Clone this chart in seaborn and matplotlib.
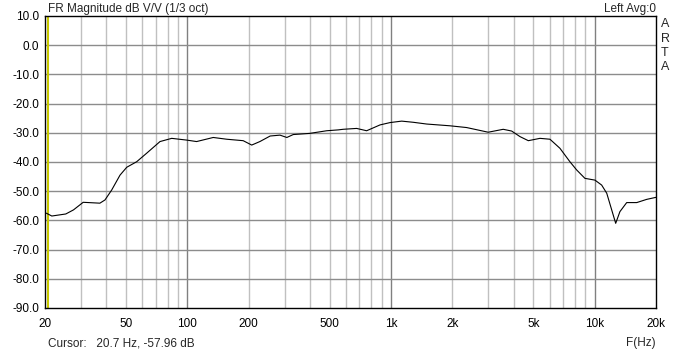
import matplotlib
matplotlib.use('Agg')
import matplotlib.pyplot as plt
import matplotlib.ticker as mticker
import seaborn as sns
import pandas as pd

# frequency response (1/3 oct smoothed)
freq_hz = [20, 20.4, 21.6, 25.3, 27.6, 30.8, 37.2, 39.4, 42.5, 46.7, 50.4,
           56.4, 63.1, 73.4, 83.8, 99.3, 111, 134, 156, 188, 207, 227, 255,
           285, 308, 331, 399, 483, 551, 582, 678, 759, 883, 989, 1128, 1286,
           1497, 1946, 2350, 3000, 3556, 3911, 4296, 4722, 5386, 6030, 6750,
           7555, 8150, 8955, 10025, 10820, 11460, 12120, 12680, 13300, 14360,
           16080, 18000, 20000]
mag_db = [-57.4, -57.6, -58.5, -57.8, -56.4, -53.8, -54.1, -53.0, -49.6,
          -44.5, -41.8, -39.9, -37.0, -33.0, -31.9, -32.5, -33.0, -31.6,
          -32.2, -32.7, -34.2, -33.0, -31.1, -30.8, -31.6, -30.6, -30.2,
          -29.3, -29.0, -28.8, -28.5, -29.3, -27.3, -26.5, -26.0, -26.4,
          -27.0, -27.6, -28.2, -29.8, -28.8, -29.4, -31.3, -32.7, -31.9,
          -32.2, -35.3, -39.9, -42.7, -45.6, -46.2, -47.9, -50.7, -56.4,
          -61.0, -57.0, -53.9, -53.9, -52.8, -52.1]

x_ticks = [20, 50, 100, 200, 500, 1000, 2000, 5000, 10000, 20000]
x_labels = ['20', '50', '100', '200', '500', '1k', '2k', '5k', '10k', '20k']
y_ticks = list(range(-90, 11, 10))
cursor_hz = 20.7

df = pd.DataFrame({'f': freq_hz, 'db': mag_db})

sns.set_style('white')
plt.rcParams['font.family'] = ['Liberation Sans', 'DejaVu Sans']

fig = plt.figure(figsize=(6.8, 3.51), dpi=100)
ax = fig.add_axes([45 / 680, 43 / 351, 611 / 680, 292 / 351])

ax.set_xscale('log')
ax.set_xlim(20, 20000)
ax.set_ylim(-90, 10)

# grid: light minor verticals, darker decades, grey horizontals
minor = [m * d for d in (10, 100, 1000) for m in range(2, 10)]
for v in minor:
    if 20 < v < 20000:
        ax.axvline(v, color='#c0c0c0', lw=1, zorder=0)
for v in (100, 1000, 10000):
    ax.axvline(v, color='#808080', lw=1, zorder=0)
for h in y_ticks[1:-1]:
    ax.axhline(h, color='#8c8c8c', lw=1, zorder=0)

ax.axvline(cursor_hz, color='#c8c800', lw=1.5, zorder=1)

sns.lineplot(data=df, x='f', y='db', ax=ax, color='black', lw=0.8,
             zorder=3, legend=False)

ax.set_xticks(x_ticks)
ax.set_xticklabels(x_labels)
ax.xaxis.set_minor_locator(mticker.NullLocator())
ax.set_yticks(y_ticks)
ax.set_yticklabels([f'{v:.1f}' for v in y_ticks])
ax.tick_params(axis='both', length=0, labelsize=8.5, colors='black', pad=4)
ax.tick_params(axis='x', pad=7)
ax.set_xlabel('')
ax.set_ylabel('')
for s in ax.spines.values():
    s.set_color('black')
    s.set_linewidth(1)

fig.text(48 / 680, 1 - 9 / 351, 'FR Magnitude dB V/V (1/3 oct)', fontsize=8.5,
         va='center', ha='left')
fig.text(656 / 680, 1 - 9 / 351, 'Left Avg:0', fontsize=8.5, va='center',
         ha='right')
for i, ch in enumerate('ARTA'):
    fig.text(665 / 680, 1 - (24 + i * 14.5) / 351, ch, fontsize=9,
             va='center', ha='center')
fig.text(48 / 680, 1 - 343 / 351, 'Cursor:   20.7 Hz, -57.96 dB',
         fontsize=8.5, va='center', ha='left')
fig.text(656 / 680, 1 - 343 / 351, 'F(Hz)', fontsize=8.5, va='center',
         ha='right')

fig.savefig('out.png', dpi=100)
